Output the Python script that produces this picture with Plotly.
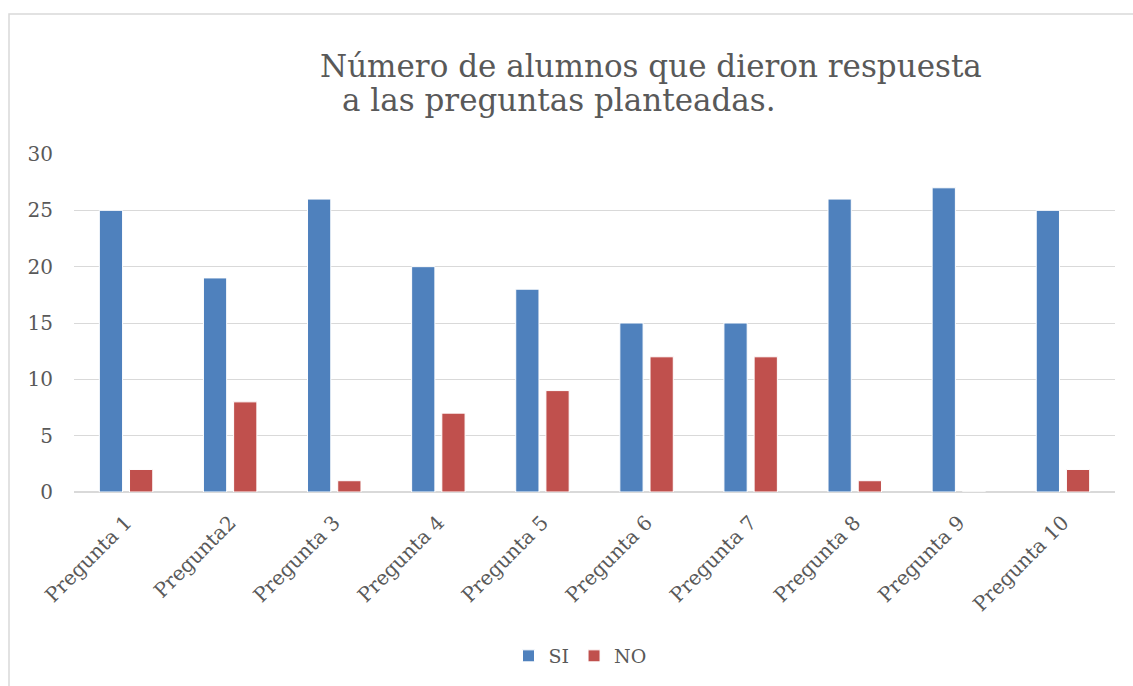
import plotly.graph_objects as go

categories = ["Pregunta 1", "Pregunta2", "Pregunta 3", "Pregunta 4", "Pregunta 5",
              "Pregunta 6", "Pregunta 7", "Pregunta 8", "Pregunta 9", "Pregunta 10"]
si_values = [25, 19, 26, 20, 18, 15, 15, 26, 27, 25]
no_values = [2, 8, 1, 7, 9, 12, 12, 1, 0, 2]
y_ticks = [0, 5, 10, 15, 20, 25, 30]
title_line1 = "Número de alumnos que dieron respuesta"
title_line2 = "a las preguntas planteadas."

FONT = "DejaVu Serif"
GREY = "#595959"

W, H = 1133, 686
L, R, T, B = 74, 18, 154, 194
pw, ph = W - L - R, H - T - B

def px_x(x):
    return (x - L) / pw

def px_y(y):
    return (H - B - y) / ph

fig = go.Figure()
fig.add_trace(go.Bar(name="SI", x=categories, y=si_values,
                     marker=dict(color="#4F81BD", line=dict(color="white", width=1))))
fig.add_trace(go.Bar(name="NO", x=categories, y=no_values,
                     marker=dict(color="#C0504D", line=dict(color="white", width=1))))

fig.update_layout(
    width=W, height=H,
    margin=dict(l=L, r=R, t=T, b=B, autoexpand=False),
    paper_bgcolor="white", plot_bgcolor="white",
    barmode="group", bargap=0.42, bargroupgap=0.23,
    font=dict(family=FONT, color=GREY),
    showlegend=True,
    legend=dict(orientation="h", x=px_x(580), xanchor="center", y=px_y(656), yanchor="middle",
                font=dict(family=FONT, size=19, color=GREY), itemwidth=30, traceorder="normal"),
    xaxis=dict(tickangle=-45, tickfont=dict(family=FONT, size=20, color=GREY),
               showgrid=False, showline=False, ticks="", ticklabelstandoff=14),
    yaxis=dict(range=[0, 30], tickvals=y_ticks, showgrid=True, gridcolor="#D9D9D9", gridwidth=1,
               zeroline=True, zerolinecolor="#D9D9D9", zerolinewidth=2,
               tickfont=dict(family=FONT, size=20, color=GREY), ticks="", ticklen=0,
               ticklabelstandoff=20),
    annotations=[
        dict(text=title_line1, xref="paper", yref="paper", x=px_x(318), y=px_y(66),
             xanchor="left", yanchor="middle", showarrow=False,
             font=dict(family=FONT, size=31, color=GREY)),
        dict(text=title_line2, xref="paper", yref="paper", x=px_x(340), y=px_y(100),
             xanchor="left", yanchor="middle", showarrow=False,
             font=dict(family=FONT, size=31, color=GREY)),
    ],
    shapes=[
        dict(type="rect", xref="paper", yref="paper", x0=px_x(9), x1=px_x(1160),
             y0=px_y(720), y1=px_y(14), line=dict(color="#D9D9D9", width=1.5), layer="below"),
    ],
)

fig.write_html("out.html", config={"displayModeBar": False},
               post_script="document.body.style.margin='0px';")
